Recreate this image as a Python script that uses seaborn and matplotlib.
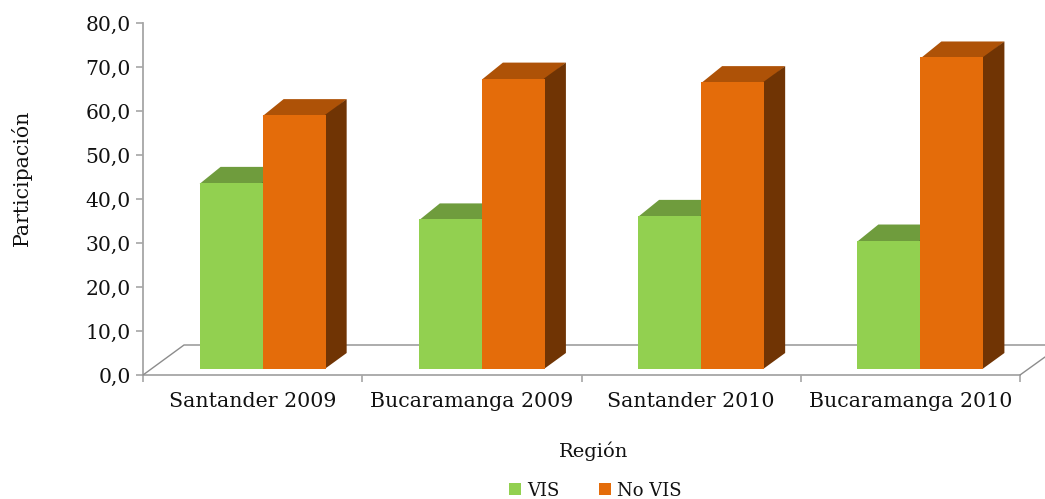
"""Participacion VIS / No VIS por region, barras con efecto 3D."""

import matplotlib
matplotlib.use("Agg")
import matplotlib.pyplot as plt
import pandas as pd
import seaborn as sns
from matplotlib.lines import Line2D
from matplotlib.patches import Polygon
from matplotlib.transforms import IdentityTransform

regions = ["Santander 2009", "Bucaramanga 2009", "Santander 2010", "Bucaramanga 2010"]
series_names = ["VIS", "No VIS"]
vis = [42.3, 34.0, 34.8, 29.2]
no_vis = [57.7, 66.0, 65.2, 70.8]
y_ticks = [0, 10, 20, 30, 40, 50, 60, 70, 80]
y_tick_labels = ["0,0", "10,0", "20,0", "30,0", "40,0", "50,0", "60,0", "70,0", "80,0"]

W, H = 1045, 499
DX, DY = 21, 16  # profundidad de cada barra, en pixeles
FLOOR_DX, FLOOR_DY = 41, 30  # profundidad del piso
FRONT = {"VIS": "#92D050", "No VIS": "#E46C0A"}
TOP = {"VIS": "#6F9C3D", "No VIS": "#AE5207"}
SIDE = {"VIS": "#567A2C", "No VIS": "#703404"}
TEXT = "#111111"

sns.set_theme(style="white")
plt.rcParams["font.family"] = ["DejaVu Serif"]


def px_axes(fig, left, right, bottom, top):
    """Axes placed by pixel position, with y measured from the top of the image."""
    return fig.add_axes([left / W, 1 - bottom / H, (right - left) / W, (bottom - top) / H])


fig = plt.figure(figsize=(W / 100, H / 100), dpi=100)

# ejes frontales: escala, marcas y textos
ax = px_axes(fig, 143, 1020, 375, 23)
ax.set_xlim(-0.5, 3.5)
ax.set_ylim(0, 80)
ax.patch.set_alpha(0)
for name in ["top", "right"]:
    ax.spines[name].set_visible(False)
for name in ["left", "bottom"]:
    ax.spines[name].set_color("#A6A6A6")
    ax.spines[name].set_linewidth(1.3)
ax.set_yticks(y_ticks, y_tick_labels, fontsize=14.6, color=TEXT)
ax.set_xticks([-0.5, 0.5, 1.5, 2.5, 3.5], [""] * 5)
ax.set_xticks(range(len(regions)), regions, minor=True, fontsize=14.8, color=TEXT)
ax.tick_params(axis="both", which="major", length=5, width=1.2, color="#A6A6A6", left=True, bottom=True)
ax.tick_params(axis="y", pad=4)
ax.tick_params(axis="x", which="minor", length=0, pad=12.5, bottom=False)
ax.set_xlabel("Región", fontsize=14, color=TEXT)
ax.xaxis.set_label_coords(0.5137, -0.188)
ax.set_ylabel("Participación", fontsize=14.7, color=TEXT)
ax.yaxis.set_label_coords(-0.127, 0.56)

# piso
floor = [
    [(143, 375), (143 + FLOOR_DX, 375 - FLOOR_DY), (1045, 375 - FLOOR_DY)],
    [(1020, 375), (1045, 357)],
]
for pts in floor:
    fig.add_artist(Line2D([p[0] / W for p in pts], [1 - p[1] / H for p in pts],
                          color="#8C8C8C", lw=1.0, zorder=0.5))

# barras: desplazadas sobre el piso
bars_ax = px_axes(fig, 153, 1030, 369, 17)
bars_ax.set_zorder(ax.get_zorder() + 1)
df = pd.DataFrame({
    "region": regions * 2,
    "serie": [series_names[0]] * len(regions) + [series_names[1]] * len(regions),
    "valor": vis + no_vis,
})
sns.barplot(data=df, x="region", y="valor", hue="serie", hue_order=series_names,
            palette=FRONT, width=0.575, saturation=1, linewidth=0, legend=False,
            errorbar=None, ax=bars_ax)
bars_ax.set_xlim(-0.5, 3.5)
bars_ax.set_ylim(0, 80)
bars_ax.axis("off")

fig.canvas.draw()
bars = [p for p in bars_ax.patches if p.get_height() > 0]
for i, bar in enumerate(bars):
    serie = series_names[0] if i < len(regions) else series_names[1]
    order = 1.2 if serie == "VIS" else 1.6
    bar.set_zorder(order + 0.2)
    (x0, y0), (x1, y1) = bars_ax.transData.transform(
        [(bar.get_x(), 0), (bar.get_x() + bar.get_width(), bar.get_height())])
    # un poco de solape bajo la cara frontal para que no quede una costura clara
    top_face = [(x0, y1 - 1), (x1, y1 - 1), (x1 + DX, y1 + DY), (x0 + DX, y1 + DY)]
    side_face = [(x1 - 1, y0), (x1 + DX, y0 + DY), (x1 + DX, y1 + DY), (x1 - 1, y1)]
    for pts, color in [(top_face, TOP[serie]), (side_face, SIDE[serie])]:
        bars_ax.add_patch(Polygon(pts, closed=True, facecolor=color, edgecolor="none",
                                  transform=IdentityTransform(), clip_on=False, zorder=order))

handles = [plt.Rectangle((0, 0), 1, 1, facecolor=FRONT[s], edgecolor="none") for s in series_names]
fig.legend(handles, series_names, loc="center", bbox_to_anchor=(595.5 / W, 1 - 490.5 / H), ncol=2,
           frameon=False, fontsize=13, handlelength=0.67, handleheight=0.67,
           handletextpad=0.35, columnspacing=2.15, labelcolor=TEXT, borderpad=0)

fig.savefig("out.png", dpi=100, facecolor="white")
